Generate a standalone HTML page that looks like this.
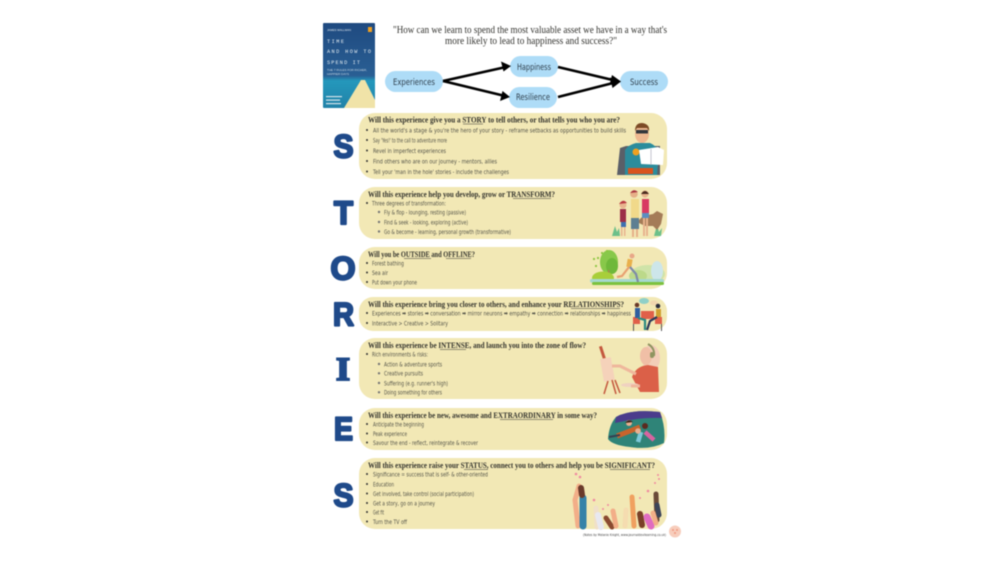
<!DOCTYPE html>
<html><head><meta charset="utf-8"><title>STORIES</title>
<style>
html,body{margin:0;padding:0;background:#fff;width:1005px;height:565px;overflow:hidden}
svg{display:block;filter:blur(.4px)}
.h{font:bold 8.6px "Liberation Serif",serif;fill:#33332d}
.b{font:6.4px "DejaVu Sans",sans-serif;fill:#55554a}
.l{font:bold 32px "Liberation Sans",sans-serif;fill:#1f4a8a;stroke:#1f4a8a;stroke-width:2.2px;stroke-linejoin:round}
.f{font:8.8px "DejaVu Sans",sans-serif;fill:#2f3f4c}
.p{fill:#f2e8b5}
.d{fill:#333}
.u{stroke:#333;stroke-width:.6}
</style></head><body>
<svg width="1005" height="565" viewBox="0 0 1005 565" xmlns="http://www.w3.org/2000/svg">
<defs>
<linearGradient id="bk" x1="0" y1="0" x2="0" y2="1"><stop offset="0" stop-color="#1f4a80"/><stop offset=".62" stop-color="#2a5f94"/><stop offset=".68" stop-color="#2498bc"/><stop offset="1" stop-color="#2282a8"/></linearGradient>
</defs>
<rect width="1005" height="565" fill="#fff"/>

<!-- book -->
<rect x="323" y="23" width="52" height="85" rx="1" fill="url(#bk)"/>
<polygon points="361,80 365,80 375,100 375,108 344,108" fill="#f0e3a8"/>
<text x="327" y="31" font-family="Liberation Sans" font-size="3" fill="#dfe8ee" textLength="24" lengthAdjust="spacingAndGlyphs">JAMES WALLMAN</text>
<rect x="368" y="27" width="4" height="5" fill="#f0a020"/>
<g font-family="Liberation Mono" font-size="5.2" fill="#e4edf2">
<text x="327" y="43" textLength="17">TIME</text>
<text x="327" y="53" textLength="44">AND HOW TO</text>
<text x="327" y="64" textLength="33">SPEND IT</text>
</g>
<text x="327" y="71" font-family="Liberation Sans" font-size="3" fill="#c8d8e4" textLength="40" lengthAdjust="spacingAndGlyphs">THE 7 RULES FOR RICHER,</text>
<text x="327" y="75" font-family="Liberation Sans" font-size="3" fill="#c8d8e4" textLength="22" lengthAdjust="spacingAndGlyphs">HAPPIER DAYS</text>
<rect x="326" y="96" width="16" height="1.2" fill="#d5e3ea"/><rect x="326" y="99.5" width="14" height="1.2" fill="#d5e3ea"/><rect x="326" y="103" width="15" height="1.2" fill="#d5e3ea"/>

<!-- quote -->
<g font-family="Liberation Serif" font-size="10" fill="#33332f">
<text x="393" y="33" textLength="274" lengthAdjust="spacingAndGlyphs">"How can we learn to spend the most valuable asset we have in a way that's</text>
<text x="445" y="44" textLength="172" lengthAdjust="spacingAndGlyphs">more likely to lead to happiness and success?"</text>
</g>

<!-- flow -->
<g fill="#aedcf7">
<rect x="385" y="71" width="58" height="21" rx="10.5"/>
<rect x="510" y="56" width="48" height="21" rx="10.5"/>
<rect x="509" y="87" width="48" height="21" rx="10.5"/>
<rect x="620" y="71" width="48" height="21" rx="10.5"/>
</g>
<g stroke="#000" stroke-width="2.6" fill="none">
<line x1="443" y1="81" x2="506" y2="67"/>
<line x1="443" y1="81" x2="505" y2="96"/>
<line x1="558" y1="67" x2="617" y2="81"/>
<line x1="558" y1="97" x2="617" y2="82"/>
</g>
<g fill="#000">
<polygon points="511,66 501,61.5 503.5,71.5"/>
<polygon points="510,97 502.5,91 500,101"/>
<polygon points="621,81.5 612,75 609.5,85"/>
<polygon points="621,81.5 610,77.5 612.5,88"/>
</g>
<text class="f" x="393" y="85" textLength="42" lengthAdjust="spacingAndGlyphs">Experiences</text>
<text class="f" x="517" y="70" textLength="34" lengthAdjust="spacingAndGlyphs">Happiness</text>
<text class="f" x="516" y="100" textLength="34" lengthAdjust="spacingAndGlyphs">Resilience</text>
<text class="f" x="630" y="85" textLength="28" lengthAdjust="spacingAndGlyphs">Success</text>

<!-- panels -->
<rect class="p" x="359" y="113" width="308" height="66" rx="16"/>
<rect class="p" x="359" y="187" width="308" height="52" rx="16"/>
<rect class="p" x="359" y="247" width="308" height="42" rx="16"/>
<rect class="p" x="359" y="297" width="308" height="34" rx="14"/>
<rect class="p" x="359" y="338" width="308" height="61" rx="16"/>
<rect class="p" x="359" y="408" width="308" height="42" rx="16"/>
<rect class="p" x="359" y="458" width="308" height="71" rx="16"/>

<!-- letters -->
<text class="l" x="333.5" y="157.5" textLength="20" lengthAdjust="spacingAndGlyphs">S</text>
<text class="l" x="334" y="224" textLength="19" lengthAdjust="spacingAndGlyphs">T</text>
<text class="l" x="330.5" y="279.5" textLength="25" lengthAdjust="spacingAndGlyphs">O</text>
<text class="l" x="333" y="325.5" textLength="21" lengthAdjust="spacingAndGlyphs">R</text>
<text x="336" y="380" font-family="Liberation Serif" font-weight="bold" font-size="33" fill="#1f4a8a" stroke="#1f4a8a" stroke-width="2" textLength="14" lengthAdjust="spacingAndGlyphs">I</text>
<text class="l" x="334" y="440" textLength="19" lengthAdjust="spacingAndGlyphs">E</text>
<text class="l" x="333.5" y="506.5" textLength="20" lengthAdjust="spacingAndGlyphs">S</text>

<!-- headings -->
<text class="h" x="368" y="122.5" textLength="252" lengthAdjust="spacingAndGlyphs">Will this experience give you a STORY to tell others, or that tells you who you are?</text>
<line class="u" x1="463" y1="124" x2="483" y2="124"/>
<text class="h" x="368" y="197" textLength="187" lengthAdjust="spacingAndGlyphs">Will this experience help you develop, grow or TRANSFORM?</text>
<line class="u" x1="513" y1="198.5" x2="551" y2="198.5"/>
<text class="h" x="368" y="257" textLength="107" lengthAdjust="spacingAndGlyphs">Will you be OUTSIDE and OFFLINE?</text>
<line class="u" x1="404" y1="258.5" x2="431" y2="258.5"/><line class="u" x1="446" y1="258.5" x2="471" y2="258.5"/>
<text class="h" x="368" y="307" textLength="256" lengthAdjust="spacingAndGlyphs">Will this experience bring you closer to others, and enhance your RELATIONSHIPS?</text>
<line class="u" x1="571" y1="308.5" x2="620" y2="308.5"/>
<text class="h" x="368" y="348" textLength="218" lengthAdjust="spacingAndGlyphs">Will this experience be INTENSE, and launch you into the zone of flow?</text>
<line class="u" x1="440" y1="349.5" x2="466" y2="349.5"/>
<text class="h" x="368" y="418" textLength="229" lengthAdjust="spacingAndGlyphs">Will this experience be new, awesome and EXTRAORDINARY in some way?</text>
<line class="u" x1="500" y1="419.5" x2="553" y2="419.5"/>
<text class="h" x="368" y="468" textLength="287" lengthAdjust="spacingAndGlyphs">Will this experience raise your STATUS, connect you to others and help you be SIGNIFICANT?</text>
<line class="u" x1="464" y1="469.5" x2="488" y2="469.5"/><line class="u" x1="610" y1="469.5" x2="650" y2="469.5"/>

<!-- body text -->
<g>
<text class="b" x="373" y="132.3" textLength="253" lengthAdjust="spacingAndGlyphs">All the world's a stage &amp; you're the hero of your story - reframe setbacks as opportunities to build skills</text>
<text class="b" x="373" y="142.3" textLength="74" lengthAdjust="spacingAndGlyphs">Say 'Yes!' to the call to adventure more</text>
<text class="b" x="373" y="152.8" textLength="73" lengthAdjust="spacingAndGlyphs">Revel in imperfect experiences</text>
<text class="b" x="373" y="163.3" textLength="124" lengthAdjust="spacingAndGlyphs">Find others who are on our journey - mentors, allies</text>
<text class="b" x="373" y="173.8" textLength="136" lengthAdjust="spacingAndGlyphs">Tell your 'man in the hole' stories - include the challenges</text>

<text class="b" x="372" y="205.3" textLength="74" lengthAdjust="spacingAndGlyphs">Three degrees of transformation:</text>
<text class="b" x="384" y="214.6" textLength="82" lengthAdjust="spacingAndGlyphs">Fly &amp; flop - lounging, resting (passive)</text>
<text class="b" x="384" y="224.3" textLength="84" lengthAdjust="spacingAndGlyphs">Find &amp; seek - looking, exploring (active)</text>
<text class="b" x="384" y="233.8" textLength="127" lengthAdjust="spacingAndGlyphs">Go &amp; become - learning, personal growth (transformative)</text>

<text class="b" x="372" y="265.3" textLength="32" lengthAdjust="spacingAndGlyphs">Forest bathing</text>
<text class="b" x="372" y="274.8" textLength="16" lengthAdjust="spacingAndGlyphs">Sea air</text>
<text class="b" x="372" y="284.3" textLength="45" lengthAdjust="spacingAndGlyphs">Put down your phone</text>

<text class="b" x="372" y="315.6" textLength="259" lengthAdjust="spacingAndGlyphs">Experiences ➡ stories ➡ conversation ➡ mirror neurons ➡ empathy ➡ connection ➡ relationships ➡ happiness</text>
<text class="b" x="372" y="325.3" textLength="76" lengthAdjust="spacingAndGlyphs">Interactive &gt; Creative &gt; Solitary</text>

<text class="b" x="372" y="356.3" textLength="56" lengthAdjust="spacingAndGlyphs">Rich environments &amp; risks:</text>
<text class="b" x="384" y="366.3" textLength="58" lengthAdjust="spacingAndGlyphs">Action &amp; adventure sports</text>
<text class="b" x="384" y="375.6" textLength="39" lengthAdjust="spacingAndGlyphs">Creative pursuits</text>
<text class="b" x="384" y="385.3" textLength="64" lengthAdjust="spacingAndGlyphs">Suffering (e.g. runner's high)</text>
<text class="b" x="384" y="394.6" textLength="58" lengthAdjust="spacingAndGlyphs">Doing something for others</text>

<text class="b" x="373" y="426.3" textLength="51" lengthAdjust="spacingAndGlyphs">Anticipate the beginning</text>
<text class="b" x="373" y="435.8" textLength="34" lengthAdjust="spacingAndGlyphs">Peak experience</text>
<text class="b" x="373" y="444.8" textLength="105" lengthAdjust="spacingAndGlyphs">Savour the end - reflect, reintegrate &amp; recover</text>

<text class="b" x="373" y="476.3" textLength="115" lengthAdjust="spacingAndGlyphs">Significance = success that is self- &amp; other-oriented</text>
<text class="b" x="373" y="486.3" textLength="21" lengthAdjust="spacingAndGlyphs">Education</text>
<text class="b" x="373" y="495.8" textLength="101" lengthAdjust="spacingAndGlyphs">Get involved, take control (social participation)</text>
<text class="b" x="373" y="505.3" textLength="62" lengthAdjust="spacingAndGlyphs">Get a story, go on a journey</text>
<text class="b" x="373" y="514.3" textLength="11" lengthAdjust="spacingAndGlyphs">Get fit</text>
<text class="b" x="373" y="523.8" textLength="34" lengthAdjust="spacingAndGlyphs">Turn the TV off</text>
</g>

<!-- bullets -->
<g class="d">
<circle cx="367" cy="130" r="1"/><circle cx="367" cy="140" r="1"/><circle cx="367" cy="150.5" r="1"/><circle cx="367" cy="161" r="1"/><circle cx="367" cy="171.5" r="1"/>
<circle cx="367" cy="203" r="1"/>
<circle cx="367" cy="263" r="1"/><circle cx="367" cy="272.5" r="1"/><circle cx="367" cy="282" r="1"/>
<circle cx="367" cy="313" r="1"/><circle cx="367" cy="323" r="1"/>
<circle cx="367" cy="354" r="1"/>
<circle cx="367" cy="424" r="1"/><circle cx="367" cy="433.5" r="1"/><circle cx="367" cy="442.5" r="1"/>
<circle cx="367" cy="474" r="1"/><circle cx="367" cy="484" r="1"/><circle cx="367" cy="493.5" r="1"/><circle cx="367" cy="503" r="1"/><circle cx="367" cy="512" r="1"/><circle cx="367" cy="521.5" r="1"/>
</g>
<g fill="#777">
<circle cx="379" cy="212" r="1.2"/><circle cx="379" cy="222" r="1.2"/><circle cx="379" cy="231.5" r="1.2"/>
<circle cx="379" cy="364" r="1.2"/><circle cx="379" cy="373.3" r="1.2"/><circle cx="379" cy="383" r="1.2"/><circle cx="379" cy="392.3" r="1.2"/>
</g>

<!-- hero -->
<polygon points="617,175 620,148 626,146 660,146 660,175" fill="#5a5f68"/>
<path d="M625,175 L625,150 Q628,145 636,143 L650,143 Q657,146 659,152 L657,175Z" fill="#2b8c9c"/>
<rect x="628" y="168" width="25" height="6" fill="#d9531e"/>
<circle cx="636" cy="152" r="3.5" fill="#eea020"/>
<ellipse cx="642" cy="134" rx="7" ry="9" fill="#eeb890"/>
<path d="M635,131 Q635,123 642,123 Q650,124 649,131 L647,128 L637,128Z" fill="#7c4a25"/>
<rect x="636" y="130" width="12" height="3.5" fill="#33363c"/>
<polygon points="639,150 658,147 664,150 663,165 641,164" fill="#fff"/>
<line x1="651" y1="149" x2="651" y2="165" stroke="#aab" stroke-width=".7"/>

<!-- family -->
<path d="M612,236 l3,-10 2,6 2,-4 1,8Z" fill="#6cc08a"/><path d="M654,236 l3,-11 2,7 3,-4 -1,8Z" fill="#6cc08a"/>
<path d="M637,222 l6,-6 10,-2 4,-3 6,3 -2,10 -4,6 -4,-4 -8,0Z" fill="#a47c58"/>
<rect x="620" y="209" width="6" height="13" fill="#9c2e48"/><rect x="621" y="222" width="5" height="5" fill="#3f6fb0"/>
<rect x="621" y="227" width="1.5" height="9" fill="#e8b48e"/><rect x="624" y="227" width="1.5" height="9" fill="#e8b48e"/>
<circle cx="623" cy="205" r="3.5" fill="#e8b48e"/><path d="M619,204 Q623,198 627,203Z" fill="#b83a42"/>
<rect x="631" y="199" width="8" height="19" fill="#f1d98a"/><rect x="631" y="218" width="8" height="11" fill="#5d7f92"/>
<rect x="632" y="229" width="2" height="8" fill="#e6b088"/><rect x="636" y="229" width="2" height="8" fill="#e6b088"/>
<circle cx="634" cy="194" r="3.8" fill="#e6b088"/><path d="M630,193 Q634,188 638,192Z" fill="#a83640"/>
<rect x="642" y="199" width="7" height="14" fill="#d83a62"/><rect x="642" y="213" width="7" height="5" fill="#5c8ec0"/>
<rect x="643" y="218" width="2" height="18" fill="#e8b48e"/><rect x="646" y="218" width="2" height="18" fill="#e8b48e"/>
<circle cx="645" cy="194" r="3.6" fill="#e8b48e"/><path d="M641,194 Q645,188 649,194Z" fill="#4a2c20"/>

<!-- runner -->
<ellipse cx="648" cy="274" rx="17" ry="9" fill="#cfe3a8"/>
<ellipse cx="657" cy="271" rx="6" ry="10" fill="#cde6ea"/>
<ellipse cx="638" cy="276" rx="9" ry="6" fill="#bcd98a"/>
<ellipse cx="609" cy="262" rx="9" ry="12" fill="#88c84a"/>
<ellipse cx="612" cy="266" rx="6" ry="8" fill="#6fb83a"/>
<rect x="608" y="270" width="1.5" height="9" fill="#b08050"/>
<ellipse cx="603" cy="278" rx="11" ry="6.5" fill="#a8ce3a"/>
<rect x="590" y="279" width="74" height="3.5" rx="1.5" fill="#a6d8d0"/>
<rect x="592" y="282" width="72" height="3" rx="1.5" fill="#7cc23e"/>
<g fill="#8cc63f"><circle cx="594" cy="259" r="1.1"/><circle cx="598" cy="258" r="1.1"/><circle cx="602" cy="253" r="1.1"/><circle cx="607" cy="251" r="1.1"/><circle cx="596" cy="266" r="1.1"/></g>
<rect x="627" y="259" width="5" height="8" fill="#e9b04c" transform="rotate(10 629 263)"/>
<circle cx="632" cy="256" r="2.5" fill="#e8a888"/>
<path d="M629,267 L622,276 L617,277" stroke="#e8a070" stroke-width="2.2" fill="none"/>
<path d="M630,267 L636,274 L638,282" stroke="#7d8aa8" stroke-width="2.2" fill="none"/>

<!-- meeting -->
<ellipse cx="644" cy="301" rx="5" ry="3" fill="#8fd0c8"/><ellipse cx="654" cy="303" rx="4" ry="2.5" fill="#f2d7b0"/>
<rect x="641" y="311" width="13" height="8" fill="#e0604a"/>
<rect x="633" y="317" width="7" height="7" fill="#e0604a"/><rect x="655" y="317" width="7" height="7" fill="#e0604a"/>
<rect x="633" y="324" width="1" height="7" fill="#555"/><rect x="661" y="324" width="1" height="7" fill="#555"/>
<rect x="635" y="308" width="5" height="10" fill="#2f5fa0"/><circle cx="637" cy="305" r="2.3" fill="#6a3a28"/>
<path d="M638,318 L645,320 L645,330" stroke="#2a8a80" stroke-width="2.2" fill="none"/>
<rect x="656" y="309" width="5" height="8" fill="#d0a030"/><circle cx="658" cy="306" r="2.3" fill="#2c2c3a"/>
<path d="M657,317 L650,321 L647,330" stroke="#2d3a58" stroke-width="2.2" fill="none"/>

<!-- painter -->
<rect x="602" y="346" width="3" height="20" fill="#c4583e" transform="rotate(-18 603 356)"/>
<rect x="602" y="358" width="11" height="23" fill="#f5d2ba" transform="rotate(-10 607 370)"/>
<path d="M608,381 L604,394 M612,380 L616,394 M615,380 L620,393" stroke="#c4583e" stroke-width="1.5"/>
<ellipse cx="651" cy="358" rx="9" ry="13" fill="#f2cdb8"/>
<ellipse cx="646" cy="356" rx="6" ry="9" fill="#f0bfa6"/>
<path d="M648,344 Q655,348 654,356" stroke="#8f9460" stroke-width="2" fill="none"/>
<rect x="650" y="352" width="4" height="6" rx="2" fill="#8f9460"/>
<path d="M632,377 Q636,366 648,365 L658,367 L659,392 L640,392Z" fill="#db6048"/>
<path d="M612,366 L620,366 L636,374" stroke="#efb79c" stroke-width="3" fill="none"/>
<ellipse cx="630" cy="385" rx="9" ry="2" fill="#f0d2c0"/>
<path d="M640,386 L631,386" stroke="#efb79c" stroke-width="3"/>

<!-- night -->
<path d="M616,417 Q630,409 660,412 Q666,428 664,443 Q650,450 630,447 Q612,445 608,439 Q609,425 616,417Z" fill="#2f8478"/>
<path d="M616,417 Q630,409 660,412 L662,418 Q640,417 615,423Z" fill="#4b3c8c"/>
<path d="M617,436 L630,431 L640,427" stroke="#c8642c" stroke-width="5" fill="none"/>
<path d="M609,437 L620,435" stroke="#354050" stroke-width="2"/>
<circle cx="629" cy="423" r="3" fill="#e8b090"/><path d="M625,423 Q629,418 633,422Z" fill="#3a241c"/>
<path d="M641,432 L638,442" stroke="#7cc8d8" stroke-width="4.5"/>
<circle cx="638" cy="431" r="2.8" fill="#e8b090"/>
<circle cx="645" cy="426" r="3" fill="#5a2a20"/>
<path d="M645,432 L654,440" stroke="#d864a0" stroke-width="4.5"/>

<!-- hands -->
<g stroke-linecap="round" fill="none">
<path d="M578,526 L575,500 L579,486" stroke="#f2ae88" stroke-width="5"/>
<path d="M583,526 L583,498" stroke="#3682a8" stroke-width="7"/>
<path d="M582,495 L581,488" stroke="#6a3a2a" stroke-width="6"/>
<path d="M597,527 L596,508" stroke="#f0e0c8" stroke-width="5"/>
<path d="M601,527 L598,515" stroke="#e8e8f0" stroke-width="6"/>
<path d="M612,527 L606,518" stroke="#8a4a30" stroke-width="5"/>
<path d="M616,526 L613,511" stroke="#f2ae88" stroke-width="5"/>
<path d="M625,526 L626,510" stroke="#f5dcb0" stroke-width="5"/>
<path d="M634,526 L632,497" stroke="#f0a060" stroke-width="5"/>
<path d="M642,525 L640,514" stroke="#7a4028" stroke-width="6"/>
<path d="M651,526 L647,517" stroke="#e06cc0" stroke-width="7"/>
<path d="M657,520 L656,494" stroke="#6a4a38" stroke-width="5"/>
<path d="M659,515 L657,505" stroke="#3c4458" stroke-width="5"/>
<path d="M656,523 L653,513" stroke="#f2ae88" stroke-width="5"/>
</g>
<g fill="#f08aa0">
<circle cx="576" cy="474" r="1.3"/><circle cx="580" cy="477" r="1.3"/><circle cx="594" cy="500" r="1.3"/><circle cx="608" cy="505" r="1"/><circle cx="603" cy="509" r="1"/><circle cx="648" cy="491" r="1.3"/><circle cx="640" cy="498" r="1"/><circle cx="655" cy="483" r="1"/><circle cx="659" cy="479" r="1"/><circle cx="658" cy="475" r="1"/>
</g>

<!-- credit -->
<text x="583" y="536" font-family="DejaVu Sans" font-size="3.9" fill="#444" textLength="83" lengthAdjust="spacingAndGlyphs">(Notes by Melanie Knight, www.journaldevilearning.co.uk)</text>
<circle cx="675" cy="531.5" r="6" fill="#f7cdbc"/>
<circle cx="673" cy="530" r="1" fill="#f09880"/><circle cx="677" cy="530" r="1" fill="#f09880"/><circle cx="675" cy="533" r="1" fill="#f09880"/>
</svg>
</body></html>
